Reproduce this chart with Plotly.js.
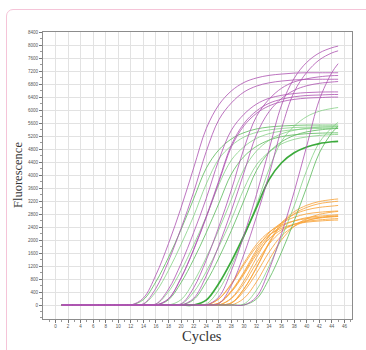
<!DOCTYPE html>
<html>
<head>
<meta charset="utf-8">
<script src="https://cdn.plot.ly/plotly-3.0.1.min.js"></script>
<style>
  html, body { margin:0; padding:0; width:366px; height:350px; overflow:hidden; background:#fff; }
  #frame { position:absolute; left:6px; top:9px; width:420px; height:420px; border:1px solid #f5c4d8; border-radius:7px; box-sizing:border-box; }
  #chart { position:absolute; left:0; top:0; width:366px; height:350px; }
</style>
</head>
<body>
<div id="frame"></div>
<div id="chart"></div>
<script>
// cycle positions where values were read
const cycles = [1,10,12,14,16,18,20,22,24,26,28,30,32,34,36,38,40,42,44,45];

// purple curves (fluorescence)
const purpleCurves = [
  [0,0,0,215,930,1895,3000,4220,5430,6160,6590,6850,6990,7070,7110,7140,7150,7150,7150,7150],
  [0,0,0,35,520,1355,2365,3475,4725,5700,6220,6555,6740,6840,6895,6930,6945,6950,6950,6950],
  [0,0,0,0,33,490,1280,2230,3280,4460,5380,5870,6185,6365,6455,6510,6540,6555,6560,6560],
  [0,0,0,0,0,195,840,1715,2720,3825,4925,5585,5975,6210,6335,6410,6450,6465,6480,6480],
  [0,0,0,0,0,190,830,1695,2690,3775,4865,5515,5900,6130,6260,6330,6370,6385,6400,6400],
  [0,0,0,0,0,0,35,530,1380,2405,3540,4815,5805,6335,6675,6870,6965,7025,7060,7065],
  [0,0,0,0,0,0,0,205,895,1830,2900,4070,5245,5950,6360,6610,6750,6825,6865,6880],
  [0,0,0,0,0,0,0,0,0,245,1055,2145,3400,4780,6155,6980,7470,7760,7920,7970],
  [0,0,0,0,0,0,0,0,0,40,600,1560,2720,4000,5440,6560,7160,7545,7760,7825],
  [0,0,0,0,0,0,0,0,0,0,0,0,250,1080,2200,3485,4895,6310,7155,7430]
];

// green curves
const greenCurves = [
  [0,0,0,165,720,1470,2325,3270,4210,4775,5110,5305,5420,5480,5510,5530,5540,5540,5540,5540],
  [0,0,0,27,410,1070,1865,2740,3725,4495,4905,5170,5315,5390,5435,5465,5475,5480,5480,5480],
  [0,0,0,0,27,410,1060,1850,2720,3700,4460,4870,5130,5275,5355,5395,5425,5435,5440,5440],
  [0,0,0,0,0,160,690,1405,2225,3125,4030,4570,4885,5075,5185,5240,5275,5290,5300,5300],
  [0,0,0,0,0,0,165,715,1460,2310,3245,4180,4740,5070,5270,5380,5440,5475,5490,5495],
  [0,0,0,0,0,0,26,395,1025,1790,2630,3575,4315,4710,4960,5100,5175,5220,5245,5250],
  [0,0,0,0,0,0,0,164,710,1445,2290,3215,4140,4700,5025,5220,5330,5390,5425,5435],
  [0,0,0,0,0,0,0,0,31,460,1200,2090,3075,4180,5045,5505,5800,5965,6050,6080],
  [0,0,0,0,0,0,0,0,0,0,0,31,460,1190,2075,3050,4150,5000,5460,5625],
  [0,0,0,0,0,0,0,0,0,0,0,0,185,800,1630,2585,3630,4675,5300,5505]
];
// dark, thicker green curve
const greenBold = [0,0,0,0,0,0,0,0,150,660,1345,2135,3000,3860,4380,4685,4865,4970,5025,5040];

// orange curves
const orangeCurves = [
  [0,0,0,0,0,0,0,0,0,185,630,1235,1790,2155,2365,2485,2550,2585,2610,2615],
  [0,0,0,0,0,0,0,0,0,190,660,1290,1865,2245,2465,2590,2660,2695,2720,2725],
  [0,0,0,0,0,0,0,0,0,55,400,940,1555,2035,2320,2480,2575,2620,2650,2660],
  [0,0,0,0,0,0,0,0,0,55,420,980,1625,2130,2420,2590,2690,2735,2765,2780],
  [0,0,0,0,0,0,0,0,0,60,440,1020,1695,2220,2525,2700,2805,2855,2885,2895],
  [0,0,0,0,0,0,0,0,0,0,195,660,1295,1875,2265,2485,2610,2675,2715,2725],
  [0,0,0,0,0,0,0,0,0,0,215,745,1455,2110,2540,2790,2930,3005,3045,3065],
  [0,0,0,0,0,0,0,0,0,0,56,420,980,1625,2130,2420,2590,2690,2735,2750],
  [0,0,0,0,0,0,0,0,0,0,65,490,1140,1885,2470,2810,3005,3120,3175,3195],
  [0,0,0,0,0,0,0,0,0,0,66,500,1160,1925,2525,2870,3070,3185,3245,3265],
  [0,0,0,0,0,0,0,0,0,0,0,205,710,1385,2005,2420,2655,2790,2860,2880]
];

// tick labels
const xTickVals = [0,2,4,6,8,10,12,14,16,18,20,22,24,26,28,30,32,34,36,38,40,42,44,46];
const yTickVals = [0,400,800,1200,1600,2000,2400,2800,3200,3600,4000,4400,4800,5200,5600,6000,6400,6800,7200,7600,8000,8400];

const traces = [];
function addLine(vals, color, width) {
  traces.push({
    x: cycles, y: vals, type: 'scatter', mode: 'lines',
    line: { color: color, width: width, shape: 'spline', smoothing: 1 },
    hoverinfo: 'skip', showlegend: false
  });
}
orangeCurves.forEach(v => addLine(v, 'rgba(248,165,60,0.85)', 1));
greenCurves.forEach((v, i) => addLine(v, i % 3 === 0 ? 'rgba(90,185,90,0.8)' : 'rgba(125,205,125,0.75)', 1));
addLine(greenBold, 'rgba(50,165,50,0.95)', 1.7);
purpleCurves.forEach(v => addLine(v, 'rgba(175,85,178,0.82)', 1));

const tickFont = { family: 'Arial, Liberation Sans, sans-serif', size: 4.5, color: '#555' };
const layout = {
  width: 366, height: 350,
  margin: { l: 43, r: 14, t: 32, b: 31, pad: 0 },
  paper_bgcolor: 'rgba(0,0,0,0)',
  plot_bgcolor: '#ffffff',
  showlegend: false,
  xaxis: {
    range: [-1.99, 47.21], tickmode: 'array', tickvals: xTickVals,
    showgrid: true, gridcolor: '#e2e2e2', gridwidth: 1, zeroline: false,
    showline: true, linecolor: '#8c8c8c', linewidth: 1, mirror: true,
    ticks: 'outside', ticklen: 3, tickcolor: '#777', tickwidth: 1,
    tickfont: tickFont,
    minor: { tickmode: 'linear', tick0: 0, dtick: 1, ticks: 'outside', ticklen: 2, tickcolor: '#999', showgrid: false }
  },
  yaxis: {
    range: [-431, 8405], tickmode: 'array', tickvals: yTickVals,
    showgrid: true, gridcolor: '#e2e2e2', gridwidth: 1, zeroline: false,
    showline: true, linecolor: '#8c8c8c', linewidth: 1, mirror: true,
    ticks: 'outside', ticklen: 3, tickcolor: '#777', tickwidth: 1,
    tickfont: tickFont,
    minor: { tickmode: 'linear', tick0: 0, dtick: 200, ticks: 'outside', ticklen: 2, tickcolor: '#999', showgrid: false }
  },
  annotations: [
    { text: 'Fluorescence', xref: 'paper', yref: 'paper', x: -0.0825, y: 0.5,
      xanchor: 'center', yanchor: 'middle', textangle: -90, showarrow: false,
      font: { family: 'Liberation Serif, Times New Roman, serif', size: 12.5, color: '#333' } },
    { text: 'Cycles', xref: 'paper', yref: 'paper', x: 0.515, y: -0.059,
      xanchor: 'center', yanchor: 'middle', showarrow: false,
      font: { family: 'Liberation Serif, Times New Roman, serif', size: 14.5, color: '#333' } }
  ]
};
Plotly.newPlot('chart', traces, layout, { staticPlot: true, displayModeBar: false });
</script>
</body>
</html>
